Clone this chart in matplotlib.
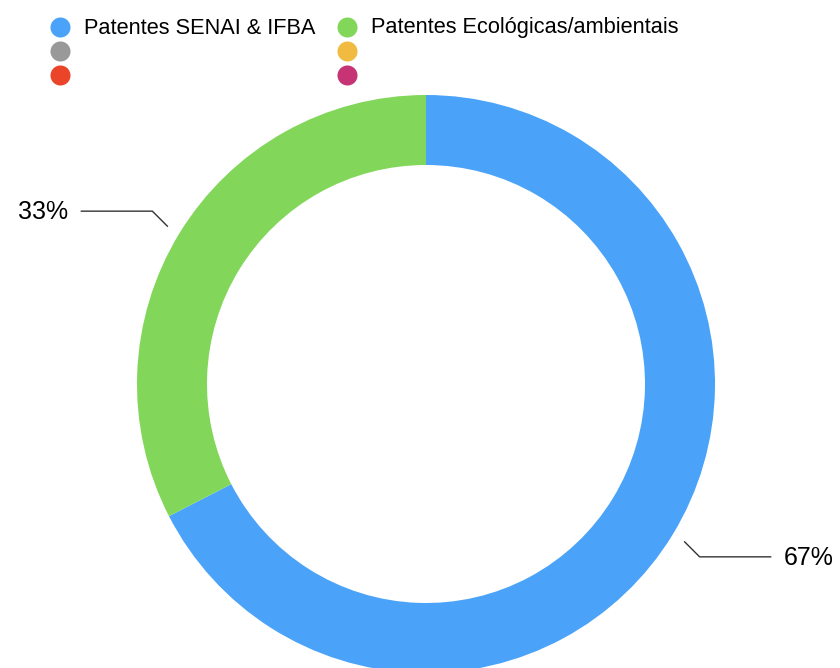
"""Donut chart: share of patents (SENAI & IFBA vs ecological/environmental)."""
import matplotlib
matplotlib.use("Agg")
import matplotlib.pyplot as plt
import numpy as np

plt.rcParams["font.family"] = ["Liberation Sans", "DejaVu Sans"]

# data
labels = ["Patentes SENAI & IFBA", "Patentes Ecológicas/ambientais"]
values = [29, 14]
colors = ["#4aa3f8", "#82d75a"]

# legend also shows four unused series slots (no name)
legend_colors = ["#4aa3f8", "#82d75a", "#999999", "#f1bb41", "#ea4429", "#c63475"]
legend_labels = labels + ["", "", "", ""]

W, H = 840, 668
fig = plt.figure(figsize=(W / 100, H / 100), dpi=100)
ax = fig.add_axes([0, 0, 1, 1])

cx, cy = 426, H - 384
R, ring = 289, 70
wedges, _ = ax.pie(values, colors=colors, startangle=90, counterclock=False,
                   radius=R, center=(cx, cy), frame=True,
                   wedgeprops=dict(width=ring, linewidth=0))
ax.set_xlim(0, W)
ax.set_ylim(0, H)
ax.set_aspect("equal")
ax.axis("off")

# percentage labels with elbow leader lines (short 45deg kink, then horizontal)
total = sum(values)
for w, v in zip(wedges, values):
    mid = np.deg2rad((w.theta1 + w.theta2) / 2)
    c, s = np.cos(mid), np.sin(mid)
    x0, y0 = cx + (R + 14) * c, cy + (R + 14) * s
    side = 1 if c > 0 else -1
    vert = 1 if s > 0 else -1
    x1, y1 = x0 + side * 15, y0 + vert * 15
    x2 = x1 + side * 71
    ax.plot([x0, x1, x2], [y0, y1, y1], color="#333333", lw=1)
    ax.text(x2 + side * 13, y1 - 1, f"{v / total:.0%}", fontsize=18,
            ha="left" if side > 0 else "right", va="center", color="black")

# legend, two columns filled row by row
for i, (col, lab) in enumerate(zip(legend_colors, legend_labels)):
    row, colm = divmod(i, 2)
    mx = 60 + colm * 287
    my = H - (27 + row * 24)
    ax.scatter([mx], [my], s=20 ** 2 * 0.52, color=col, linewidths=0)
    if lab:
        ax.text(mx + 24, my - 1, lab, fontsize=15.7, va="center", ha="left")

fig.savefig("out.png", dpi=100)
